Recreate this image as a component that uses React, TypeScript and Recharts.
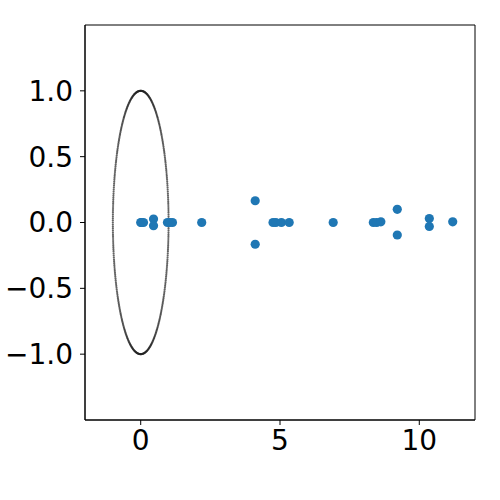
import React from 'react'
import { ScatterChart, Scatter, XAxis, YAxis, ReferenceArea } from 'recharts'

const realParts = [0, 0.03, 0.1, 0.46, 0.46, 0.96, 1.05, 1.14, 2.19, 4.11, 4.11, 4.75, 4.85, 5.05, 5.33, 6.91, 8.35, 8.47, 8.62, 9.21, 9.21, 10.36, 10.36, 11.2]
const imagParts = [0, 0, 0, 0.026, -0.024, 0, 0, 0, 0, 0.165, -0.165, 0, 0, 0, 0, 0, 0, 0, 0.005, 0.1, -0.095, 0.03, -0.03, 0.005]

const xTicks = [0, 5, 10]
const yTicks = [-1, -0.5, 0, 0.5, 1]

// unit circle reference
const CIRCLE_N = 400
const circleData = Array.from({ length: CIRCLE_N }, (_, i) => {
  const t = (2 * Math.PI * i) / CIRCLE_N
  return { x: Math.cos(t), y: Math.sin(t) }
})

const eigData = realParts.map((x, i) => ({ x, y: imagParts[i] }))

const fmt = (v: number) => {
  const s = v.toFixed(1)
  return v < 0 ? '\u2212' + s.slice(1) : s
}

const tickStyle = { fontSize: 28, fill: '#000', fontFamily: 'DejaVu Sans' }

const SmallDot = (props: any) => <circle cx={props.cx} cy={props.cy} r={1.1} fill="#222" fillOpacity={0.7} />
const BigDot = (props: any) => <circle cx={props.cx} cy={props.cy} r={4.6} fill="#1f77b4" />

export default function App() {
  return (
    <div style={{ position: 'absolute', left: 0, top: 0, background: '#fff' }}>
      <ScatterChart width={500} height={500} margin={{ top: 25, right: 25, left: 0, bottom: 0 }}>
        <XAxis
          type="number"
          dataKey="x"
          domain={[-2, 12]}
          ticks={xTicks}
          allowDataOverflow
          height={80}
          tick={tickStyle}
          tickSize={5}
          tickMargin={5}
          stroke="#000"
          tickFormatter={(v: number) => String(v)}
        />
        <YAxis
          type="number"
          dataKey="y"
          domain={[-1.5, 1.5]}
          ticks={yTicks}
          allowDataOverflow
          width={85}
          tick={tickStyle}
          tickSize={5}
          tickMargin={7}
          stroke="#000"
          tickFormatter={fmt}
        />
        <ReferenceArea x1={-2} x2={12} y1={-1.5} y2={1.5} fill="none" stroke="#000" strokeWidth={1} ifOverflow="visible" />
        <Scatter data={circleData} shape={SmallDot} isAnimationActive={false} />
        <Scatter data={eigData} shape={BigDot} isAnimationActive={false} />
      </ScatterChart>
    </div>
  )
}
